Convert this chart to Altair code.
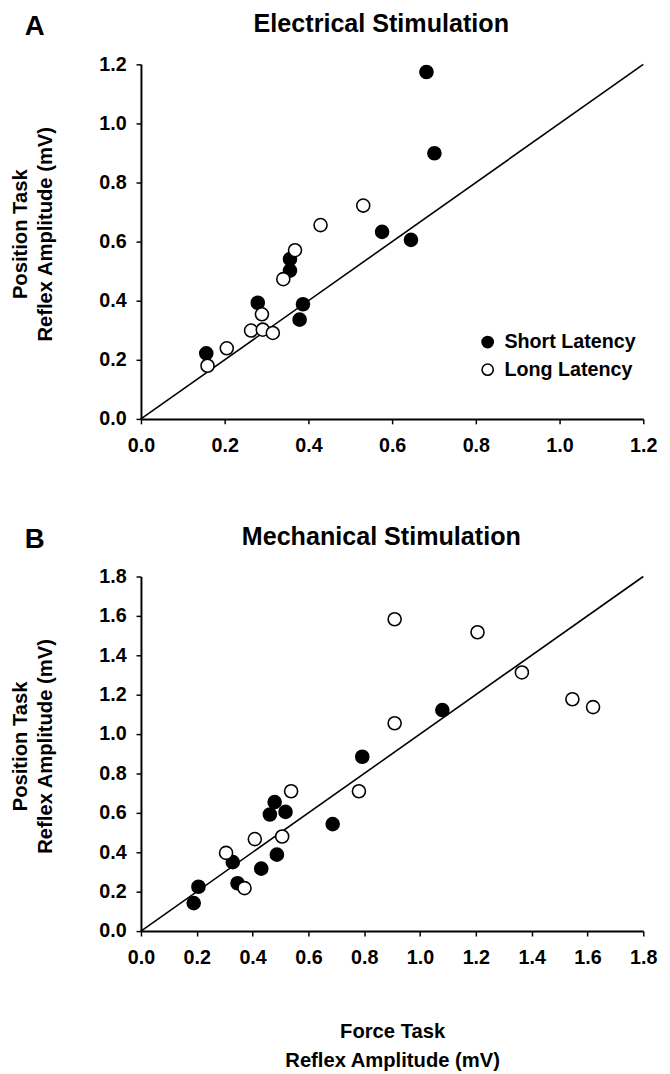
import altair as alt
import pandas as pd

# Panel A: Electrical Stimulation
a_short_x = [0.682, 0.701, 0.576, 0.645, 0.356, 0.356, 0.279, 0.387, 0.379, 0.156]
a_short_y = [1.174, 0.899, 0.633, 0.606, 0.541, 0.502, 0.393, 0.388, 0.336, 0.222]
a_long_x = [0.531, 0.429, 0.368, 0.340, 0.289, 0.263, 0.291, 0.315, 0.205, 0.159]
a_long_y = [0.722, 0.656, 0.571, 0.473, 0.354, 0.299, 0.302, 0.291, 0.239, 0.180]

# Panel B: Mechanical Stimulation
b_short_x = [0.793, 1.080, 0.479, 0.462, 0.518, 0.687, 0.487, 0.329, 0.431, 0.206, 0.346, 0.189]
b_short_y = [0.885, 1.122, 0.655, 0.592, 0.605, 0.543, 0.388, 0.350, 0.317, 0.225, 0.243, 0.142]
b_long_x = [0.909, 0.909, 1.206, 1.365, 1.546, 1.620, 0.781, 0.538, 0.408, 0.506, 0.305, 0.371]
b_long_y = [1.583, 1.055, 1.517, 1.313, 1.177, 1.137, 0.710, 0.710, 0.467, 0.480, 0.397, 0.218]

groups = ["Short Latency", "Long Latency"]
a_ticks = [0.0, 0.2, 0.4, 0.6, 0.8, 1.0, 1.2]
b_ticks = [0.0, 0.2, 0.4, 0.6, 0.8, 1.0, 1.2, 1.4, 1.6, 1.8]
a_line = [0.0, 1.2]
b_line = [0.0, 1.8]

FONT = "Liberation Sans"


def points_df(sx, sy, lx, ly):
    rows = [{"x": x, "y": y, "g": groups[0]} for x, y in zip(sx, sy)]
    rows += [{"x": x, "y": y, "g": groups[1]} for x, y in zip(lx, ly)]
    return pd.DataFrame(rows)


def panel(df, line_vals, ticks, title, letter, show_legend, show_xtitle, title_y, letter_y):
    dom = [ticks[0], ticks[-1]]
    xscale = alt.Scale(domain=dom, nice=False, zero=True)
    yscale = alt.Scale(domain=dom, nice=False, zero=True)
    xaxis = alt.Axis(
        values=ticks, format=".1f", grid=False, labelFlush=False, labelOverlap=False,
        labelPadding=12,
        title=["Force Task", "Reflex Amplitude (mV)"] if show_xtitle else None,
        titlePadding=55, titleLineHeight=30,
    )
    yaxis = alt.Axis(
        values=ticks, format=".1f", grid=False, labelFlush=False, labelOverlap=False,
        labelPadding=10,
        title=["Position Task", "Reflex Amplitude (mV)"],
        titlePadding=44, titleLineHeight=25, titleY=172,
    )
    line_df = pd.DataFrame({"x": line_vals, "y": line_vals})
    line = alt.Chart(line_df).mark_line(color="black", strokeWidth=1.6).encode(
        x=alt.X("x:Q", scale=xscale, axis=xaxis),
        y=alt.Y("y:Q", scale=yscale, axis=yaxis),
    )
    if show_legend:
        legend = alt.Legend(
            title=None, orient="none", legendX=342, legendY=272,
            symbolType="circle", symbolSize=130, symbolStrokeColor="black",
            symbolStrokeWidth=1.6, labelFont=FONT, labelFontWeight="bold",
            labelFontSize=20, labelColor="black", rowPadding=8, labelOffset=7,
        )
    else:
        legend = None
    pts = alt.Chart(df).mark_point(
        shape="circle", filled=True, size=175, stroke="black", strokeWidth=1.6, opacity=1
    ).encode(
        x=alt.X("x:Q", scale=xscale, axis=xaxis),
        y=alt.Y("y:Q", scale=yscale, axis=yaxis),
        fill=alt.Fill("g:N", scale=alt.Scale(domain=groups, range=["black", "white"]),
                      legend=legend),
        order=alt.Order("ord:Q"),
    ).transform_calculate(ord="datum.g == 'Short Latency' ? 0 : 1")
    head = pd.DataFrame({"t": [letter]})
    lab = alt.Chart(head).mark_text(
        font=FONT, fontSize=28, fontWeight="bold", align="center", baseline="alphabetic",
        color="black",
    ).encode(text="t:N", x=alt.value(-108), y=alt.value(letter_y))
    ttl = alt.Chart(pd.DataFrame({"t": [title]})).mark_text(
        font=FONT, fontSize=25.5, fontWeight="bold", align="center", baseline="alphabetic",
        color="black",
    ).encode(text="t:N", x=alt.value(244), y=alt.value(title_y))
    return alt.layer(line, pts, lab, ttl).properties(width=510, height=360)


chart_a = panel(points_df(a_short_x, a_short_y, a_long_x, a_long_y), a_line, a_ticks,
                "Electrical Stimulation", "A", True, False, -32.5, -30)
chart_b = panel(points_df(b_short_x, b_short_y, b_long_x, b_long_y), b_line, b_ticks,
                "Mechanical Stimulation", "B", False, True, -32, -29)

chart = alt.vconcat(chart_a, chart_b, spacing=71).resolve_scale(
    fill="independent", x="independent", y="independent"
).resolve_legend(fill="independent").configure(
    padding={"left": 3, "top": -4, "right": 5, "bottom": 0},
).configure_view(stroke=None).configure_axis(
    domainColor="black", domainWidth=2, tickColor="black", tickSize=5, tickWidth=1.5,
    labelFont=FONT, labelFontWeight="bold", labelFontSize=20, labelColor="black",
    titleFont=FONT, titleFontWeight="bold", titleFontSize=20.5,
    titleColor="black",
)

chart.save("out.html", embed_options={"renderer": "svg", "actions": False})
